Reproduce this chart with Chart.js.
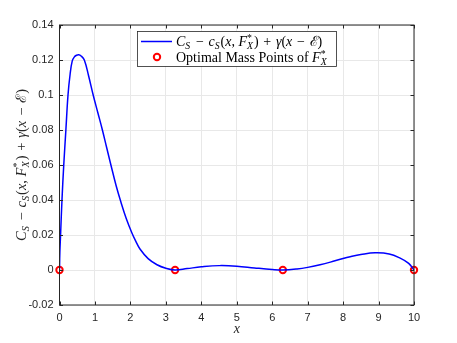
<!DOCTYPE html>
<html>
<head>
<meta charset="utf-8">
<script src="https://cdn.jsdelivr.net/npm/chart.js@4"></script>
<style>
  body { margin: 0; background: #fff; }
</style>
</head>
<body>
<canvas id="myChart" width="457" height="343"></canvas>
<script>
var ctx = document.getElementById("myChart").getContext('2d');

// curve
const curveX = [0, 0.01, 0.03, 0.07, 0.12, 0.18, 0.24, 0.30, 0.36, 0.42, 0.48, 0.54, 0.61, 0.70, 0.82, 0.95, 1.08, 1.21, 1.33, 1.45, 1.6, 1.73, 1.88, 2.04, 2.15, 2.27, 2.5, 2.75, 3.0, 3.26, 3.6, 4.0, 4.5, 5.0, 5.5, 6.0, 6.3, 6.7, 7.0, 7.35, 7.64, 8.0, 8.2, 8.5, 8.9, 9.3, 9.61, 9.85, 10];
const curveY = [0, 0.01, 0.02, 0.04, 0.06, 0.08, 0.1, 0.112, 0.1195, 0.1218, 0.1227, 0.123, 0.1223, 0.12, 0.111, 0.1, 0.09, 0.08, 0.07, 0.06, 0.048, 0.039, 0.0296, 0.0213, 0.0165, 0.012, 0.0065, 0.003, 0.001, 0, 0.0008, 0.0018, 0.0025, 0.0022, 0.0012, 0.0003, 0, 0.0006, 0.0015, 0.003, 0.0045, 0.0066, 0.0076, 0.0088, 0.0098, 0.0092, 0.0068, 0.0038, 0];

// optimal mass points
const massX = [0, 3.26, 6.30, 10];
const massY = [0, 0, 0, 0];

const xTicks = [0, 1, 2, 3, 4, 5, 6, 7, 8, 9, 10];
const yTicks = [-0.02, 0, 0.02, 0.04, 0.06, 0.08, 0.1, 0.12, 0.14];

const legendLabel2 = 'Optimal Mass Points of ';

const axisColor = '#262626';
const serif = '"Liberation Serif", "DejaVu Serif", serif';

// small math text helper: parts = [{t, it, sub, sup}]
function partWidth(c, p, size) {
  c.font = (p.it ? 'italic ' : '') + size + 'px ' + serif;
  let w = c.measureText(p.t).width;
  let ws = 0;
  c.font = 'italic ' + (size * 0.7) + 'px ' + serif;
  if (p.sub) ws = Math.max(ws, c.measureText(p.sub).width);
  c.font = (size * 0.7) + 'px ' + serif;
  if (p.sup) ws = Math.max(ws, c.measureText(p.sup).width);
  return w + ws + (ws ? 1 : 0);
}
function mathWidth(c, parts, size) {
  return parts.reduce((a, p) => a + partWidth(c, p, size), 0);
}
function drawMath(c, parts, x, y, size) {
  c.textBaseline = 'alphabetic';
  c.textAlign = 'left';
  parts.forEach(p => {
    c.font = (p.it ? 'italic ' : '') + size + 'px ' + serif;
    c.fillText(p.t, x, y);
    let w = c.measureText(p.t).width;
    let ws = 0;
    if (p.sub) {
      c.font = 'italic ' + (size * 0.7) + 'px ' + serif;
      c.fillText(p.sub, x + w, y + size * 0.22);
      ws = Math.max(ws, c.measureText(p.sub).width);
    }
    if (p.sup) {
      c.font = (size * 0.7) + 'px ' + serif;
      c.fillText(p.sup, x + w, y - size * 0.38);
      ws = Math.max(ws, c.measureText(p.sup).width);
    }
    x += w + ws + (ws ? 1 : 0);
  });
}

const sp = ' \u200A';
const formula = [
  {t: 'C', it: true, sub: 'S'}, {t: sp + '\u2212' + sp}, {t: 'c', it: true, sub: 'S'}, {t: '('},
  {t: 'x', it: true}, {t: ', '}, {t: 'F', it: true, sub: 'X', sup: '*'}, {t: ')' + sp + '+' + sp},
  {t: '\u03B3', it: true}, {t: '('}, {t: 'x', it: true}, {t: sp + '\u2212' + sp}, {t: '\u2130'}, {t: ')'}
];
const label2 = [{t: legendLabel2}, {t: 'F', it: true, sub: 'X', sup: '*'}];

const matlabLook = {
  id: 'matlabLook',
  afterDraw(chart) {
    const c = chart.ctx;
    const a = chart.chartArea;
    const xs = chart.scales.x, ys = chart.scales.y;
    c.save();
    // box
    c.strokeStyle = axisColor;
    c.lineWidth = 1;
    c.strokeRect(a.left, a.top, a.right - a.left, a.bottom - a.top);
    // inward ticks on all sides
    c.beginPath();
    xTicks.forEach(v => {
      const px = Math.round(xs.getPixelForValue(v)) + 0.5;
      c.moveTo(px, a.bottom); c.lineTo(px, a.bottom - 3.5);
      c.moveTo(px, a.top); c.lineTo(px, a.top + 3.5);
    });
    yTicks.forEach(v => {
      const py = Math.round(ys.getPixelForValue(v)) + 0.5;
      c.moveTo(a.left, py); c.lineTo(a.left + 3.5, py);
      c.moveTo(a.right, py); c.lineTo(a.right - 3.5, py);
    });
    c.stroke();

    // legend
    const lx = 137, ly = 31, lw = 199, lh = 35;
    c.fillStyle = '#fff';
    c.fillRect(lx, ly, lw, lh);
    c.lineWidth = 0.8;
    c.strokeStyle = axisColor;
    c.strokeRect(lx + 0.5, ly + 0.5, lw, lh);
    c.strokeStyle = '#0000ff';
    c.lineWidth = 1.5;
    c.beginPath(); c.moveTo(141, 41.5); c.lineTo(172, 41.5); c.stroke();
    c.strokeStyle = '#ff0000';
    c.lineWidth = 2;
    c.beginPath(); c.arc(157, 57, 3.2, 0, Math.PI * 2); c.stroke();
    c.fillStyle = '#000';
    drawMath(c, formula, 176, 46, 14);
    drawMath(c, label2, 176, 62, 14);

    // axis titles
    c.fillStyle = axisColor;
    const xw = mathWidth(c, [{t: 'x', it: true}], 14);
    drawMath(c, [{t: 'x', it: true}], (a.left + a.right) / 2 - xw / 2, 333, 14);
    c.translate(26, (a.top + a.bottom) / 2);
    c.rotate(-Math.PI / 2);
    const fw = mathWidth(c, formula, 14.5);
    drawMath(c, formula, -fw / 2, 0, 14.5);
    c.restore();
  }
};

const data = {
  datasets: [{
    label: 'curve',
    data: curveX.map((v, i) => ({x: v, y: curveY[i]})),
    showLine: true,
    borderColor: '#0000ff',
    borderWidth: 1.5,
    pointRadius: 0,
    tension: 0.4,
    fill: false
  }, {
    label: 'mass points',
    data: massX.map((v, i) => ({x: v, y: massY[i]})),
    showLine: false,
    pointRadius: 3.2,
    pointBorderWidth: 2,
    pointBorderColor: '#ff0000',
    pointBackgroundColor: 'rgba(0,0,0,0)',
    clip: false
  }]
};

const config = {
  type: 'scatter',
  data,
  plugins: [matlabLook],
  options: {
    responsive: false,
    animation: false,
    layout: { padding: { left: 0, top: 25, right: 43, bottom: 0 } },
    plugins: { legend: { display: false }, tooltip: { enabled: false } },
    scales: {
      x: {
        type: 'linear', min: 0, max: 10,
        afterBuildTicks: s => { s.ticks = xTicks.map(v => ({value: v})); },
        afterFit: s => { s.height = 38; },
        grid: { color: '#e8e8e8', drawTicks: false },
        border: { display: false },
        ticks: { color: axisColor, padding: 6, font: { family: '"Liberation Sans", Arial, sans-serif', size: 11 }, maxRotation: 0 }
      },
      y: {
        type: 'linear', min: -0.02, max: 0.14,
        afterBuildTicks: s => { s.ticks = yTicks.map(v => ({value: v})); },
        afterFit: s => { s.width = 59.5; },
        grid: { color: '#e8e8e8', drawTicks: false },
        border: { display: false },
        ticks: {
          color: axisColor, padding: 6,
          font: { family: '"Liberation Sans", Arial, sans-serif', size: 11 },
          callback: v => parseFloat(v.toFixed(2)).toString()
        }
      }
    }
  }
};

var myChart = new Chart(ctx, config);
</script>
</body>
</html>
